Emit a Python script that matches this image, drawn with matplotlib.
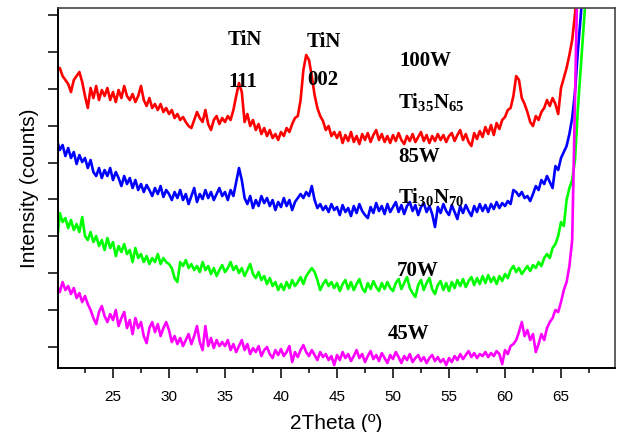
import numpy as np
import matplotlib.pyplot as plt

# 2theta scan grid (deg), 0.25 deg step
two_theta = np.arange(20.0, 67.51, 0.25)

# Intensity (arb. counts), one row per 5 deg
i_100w = [298, 300, 292, 288, 284, 276, 288, 292, 296, 286, 272, 260, 280, 270, 282, 268, 278, 272, 280, 268,
          276, 266, 278, 270, 282, 272, 268, 274, 266, 272, 282, 268, 262, 270, 260, 264, 258, 264, 256, 260,
          254, 258, 250, 254, 248, 251, 246, 242, 240, 248, 256, 250, 246, 258, 244, 238, 248, 252, 244, 250,
          246, 252, 248, 258, 272, 285, 276, 246, 254, 242, 248, 238, 244, 234, 240, 232, 238, 230, 234, 228,
          236, 232, 240, 236, 244, 250, 252, 268, 298, 313, 308, 292, 273, 260, 252, 247, 238, 242, 232, 236,
          230, 236, 225, 233, 227, 236, 226, 232, 224, 234, 228, 235, 226, 233, 238, 228, 234, 226, 232, 225,
          233, 227, 235, 228, 224, 232, 227, 234, 226, 231, 236, 227, 233, 225, 232, 227, 234, 228, 233, 226,
          232, 235, 227, 233, 238, 228, 234, 226, 222, 235, 229, 237, 231, 241, 234, 243, 233, 245, 239, 248,
          251, 258, 260, 272, 292, 288, 270, 264, 256, 246, 242, 252, 248, 256, 260, 268, 262, 270, 264, 254,
          280, 290, 300, 313, 328, 354, 388, 428, 468, 508, 548]

i_85w = [228, 218, 223, 212, 220, 210, 216, 204, 213, 206, 210, 200, 208, 196, 192, 200, 190, 198, 192, 200,
         188, 196, 190, 182, 192, 184, 190, 180, 188, 178, 184, 176, 183, 178, 172, 180, 174, 182, 171, 178,
         174, 168, 176, 170, 178, 168, 174, 164, 172, 180, 166, 174, 169, 178, 170, 176, 168, 174, 180, 172,
         176, 168, 178, 172, 186, 200, 188, 170, 164, 172, 160, 168, 162, 172, 165, 170, 162, 168, 158, 166,
         161, 170, 162, 168, 158, 166, 170, 174, 170, 176, 172, 182, 168, 160, 164, 158, 162, 156, 164, 158,
         161, 153, 163, 156, 160, 152, 162, 155, 164, 157, 153, 150, 161, 155, 165, 157, 162, 154, 164, 156,
         161, 166, 156, 163, 154, 162, 166, 157, 163, 153, 161, 165, 156, 162, 154, 141, 161, 155, 164, 157,
         153, 163, 156, 149, 162, 155, 163, 157, 152, 162, 156, 164, 157, 163, 156, 164, 159, 166, 160, 165,
         162, 167, 164, 178, 176, 172, 176, 170, 172, 167, 174, 182, 178, 188, 184, 192, 186, 180, 202, 198,
         210, 216, 222, 234, 250, 276, 316, 350, 388, 428, 468]

i_70w = [125, 155, 146, 150, 140, 148, 138, 144, 136, 151, 132, 128, 136, 126, 132, 122, 128, 118, 130, 120,
         126, 112, 122, 116, 124, 114, 118, 106, 120, 110, 114, 106, 112, 104, 110, 106, 114, 104, 110, 106,
         104, 100, 90, 86, 106, 102, 108, 100, 104, 98, 102, 96, 106, 98, 102, 94, 100, 92, 98, 103,
         96, 100, 106, 98, 102, 95, 100, 92, 98, 104, 94, 90, 96, 88, 92, 84, 90, 82, 86, 78,
         84, 78, 86, 80, 88, 82, 86, 91, 84, 92, 96, 100, 96, 88, 78, 84, 88, 82, 86, 80,
         85, 77, 84, 88, 79, 86, 78, 84, 89, 80, 76, 85, 79, 87, 81, 77, 85, 79, 86, 80,
         77, 85, 89, 79, 85, 91, 80, 75, 71, 83, 88, 78, 85, 90, 79, 74, 83, 87, 78, 85,
         77, 86, 80, 88, 82, 89, 81, 87, 91, 83, 90, 84, 92, 85, 93, 86, 91, 84, 92, 87,
         94, 90, 98, 102, 96, 100, 94, 98, 102, 97, 103, 100, 106, 102, 110, 114, 110, 120, 124, 132,
         146, 142, 168, 180, 188, 208, 258, 298, 338, 378, 418]

i_45w = [83, 76, 86, 78, 82, 74, 80, 70, 75, 66, 72, 64, 58, 50, 44, 56, 62, 52, 46, 54,
         48, 58, 42, 50, 56, 40, 48, 34, 50, 40, 46, 32, 25, 40, 46, 36, 44, 32, 40, 46,
         38, 26, 32, 24, 30, 22, 28, 34, 24, 32, 42, 26, 18, 42, 22, 30, 20, 28, 22, 26,
         22, 28, 18, 24, 16, 22, 28, 18, 24, 14, 20, 16, 22, 12, 18, 21, 14, 10, 18, 13,
         19, 12, 16, 22, 6, 16, 11, 18, 23, 16, 12, 18, 13, 8, 16, 11, 14, 8, 12, 3,
         13, 8, 16, 10, 14, 7, 12, 18, 10, 14, 6, 12, 17, 9, 13, 7, 15, 10, 5, 13,
         9, 16, 11, 5, 12, 8, 14, 6, 10, 13, 7, 11, 5, 10, 13, 7, 11, 6, 9, 3,
         10, 6, 12, 8, 14, 9, 13, 17, 11, 15, 10, 14, 12, 16, 11, 15, 12, 17, 14, 4,
         18, 14, 22, 24, 28, 36, 46, 32, 38, 28, 34, 16, 24, 34, 28, 40, 46, 50, 58, 56,
         66, 78, 86, 102, 128, 268, 408, 488, 568, 648, 728]

plt.rcParams['mathtext.fontset'] = 'custom'
plt.rcParams['mathtext.rm'] = 'Liberation Serif:bold'
plt.rcParams['mathtext.bf'] = 'Liberation Serif:bold'

fig = plt.figure(figsize=(6.19, 4.32), dpi=100)
ax = fig.add_axes([0.0937, 0.148, 0.8998, 0.8335])

lw = 1.9
ax.plot(two_theta, i_100w, color='#ff0000', linewidth=lw)
ax.plot(two_theta, i_85w, color='#0000ff', linewidth=lw)
ax.plot(two_theta, i_70w, color='#00ff00', linewidth=lw)
ax.plot(two_theta, i_45w, color='#ff00ff', linewidth=lw)

ax.set_xlim(20.09, 69.82)
ax.set_ylim(0, 360)

ax.set_xticks(np.arange(25, 66, 5))
ax.set_xticks(np.arange(22.5, 68, 5), minor=True)
ax.set_yticks(np.linspace(21, 353, 10))
ax.set_yticklabels([])
ax.tick_params(axis='x', which='major', direction='out', length=7, width=1.1,
               labelsize=11, pad=9)
ax.tick_params(axis='x', which='minor', direction='out', length=3.5, width=1.1)
ax.tick_params(axis='y', direction='out', length=7, width=1.1)
for lab in ax.get_xticklabels():
    lab.set_fontfamily('Liberation Sans')

ax.spines['left'].set_linewidth(1.4)
ax.spines['bottom'].set_linewidth(1.4)
ax.spines['top'].set_color('#444444')
ax.spines['right'].set_color('#444444')
ax.spines['top'].set_linewidth(1.2)
ax.spines['right'].set_linewidth(1.2)

ax.set_xlabel('2Theta (º)', fontsize=15, family='Liberation Sans', labelpad=7)
ax.set_ylabel('Intensity (counts)', fontsize=15, family='Liberation Sans', labelpad=3)

lbl = dict(fontsize=15, family='Liberation Serif', fontweight='bold', color='black')
ax.text(35.27, 328, 'TiN', ha='left', va='center', **lbl)
ax.text(35.27, 286, '111', ha='left', va='center', **lbl)
ax.text(42.32, 326, 'TiN', ha='left', va='center', **lbl)
ax.text(42.32, 288, '002', ha='left', va='center', **lbl)
ax.text(50.6, 307, '100W', ha='left', va='center', **lbl)
ax.text(50.45, 260, r'Ti$_{35}$N$_{65}$', ha='left', va='baseline', **lbl)
ax.text(50.45, 211, '85W', ha='left', va='center', **lbl)
ax.text(50.45, 165, r'Ti$_{30}$N$_{70}$', ha='left', va='baseline', **lbl)
ax.text(50.36, 97, '70W', ha='left', va='center', **lbl)
ax.text(49.55, 34, '45W', ha='left', va='center', **lbl)

fig.savefig('out.png', dpi=100)
